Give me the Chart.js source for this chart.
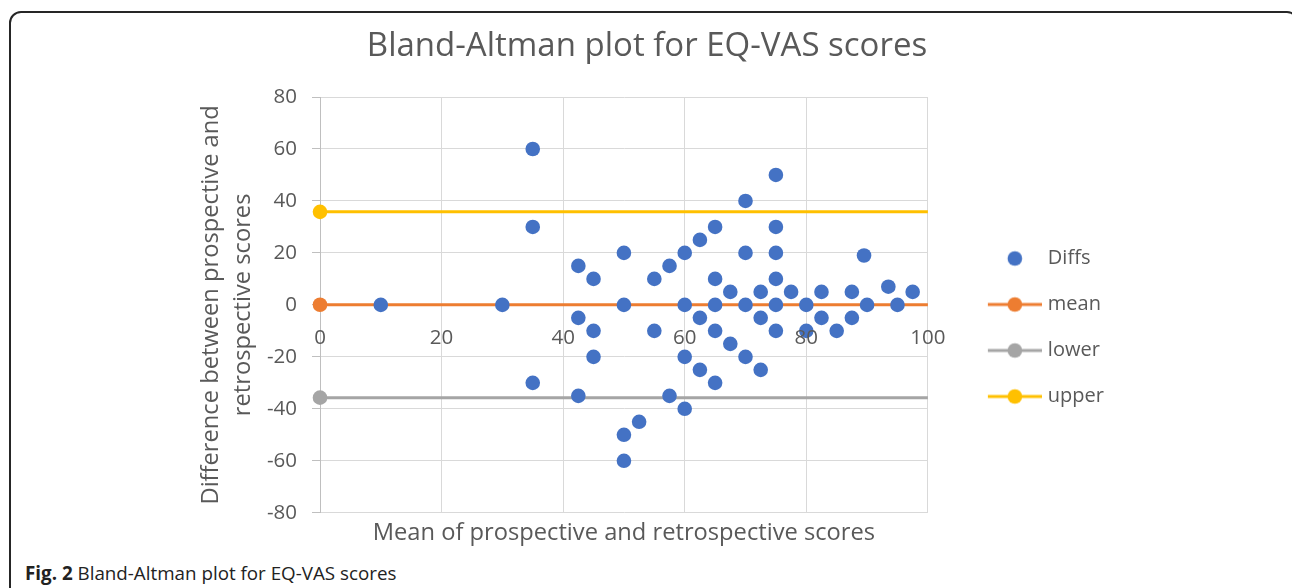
<!DOCTYPE html>
<html>
<head>
<meta charset="utf-8">
<script src="https://cdn.jsdelivr.net/npm/chart.js@4/dist/chart.umd.min.js"></script>
<style>
  html, body { margin: 0; padding: 0; background: #fff; overflow: hidden; width: 1292px; height: 588px; }
  #frame { position: absolute; left: 9px; top: 11px; width: 1290px; height: 700px; border: 2px solid #262626; border-radius: 12px; box-sizing: border-box; }
  #chart { position: absolute; left: 0; top: 0; }
  #caption { position: absolute; left: 25px; top: 560px; font-family: "Open Sans", sans-serif; font-size: 18.8px; color: #222; white-space: nowrap; }
</style>
</head>
<body>
<div id="frame"></div>
<canvas id="chart" width="1292" height="551"></canvas>
<div id="caption"><b>Fig. 2</b> Bland-Altman plot for EQ-VAS scores</div>
<script>
// Bland-Altman, EQ-VAS: mean of the two scores vs. their difference
var diffX = [10, 30, 35, 35, 35, 42.5, 42.5, 42.5, 45, 45, 45, 50, 50, 50, 50,
  52.5, 55, 55, 57.5, 57.5, 60, 60, 60, 60, 62.5, 62.5, 62.5, 65, 65, 65, 65, 65,
  67.5, 67.5, 70, 70, 70, 70, 72.5, 72.5, 72.5, 75, 75, 75, 75, 75, 75, 77.5,
  80, 80, 82.5, 82.5, 85, 87.5, 87.5, 89.5, 90, 93.5, 95, 97.5];
var diffY = [0, 0, 60, 30, -30, 15, -5, -35, 10, -10, -20, 20, 0, -50, -60,
  -45, 10, -10, 15, -35, 20, 0, -20, -40, 25, -5, -25, 30, 10, 0, -10, -30,
  5, -15, 40, 20, 0, -20, 5, -5, -25, 50, 30, 20, 10, 0, -10, 5,
  0, -10, 5, -5, -10, 5, -5, 19, 0, 7, 0, 5];

var limitX = [0, 100];
var meanDiff = [0.05, 0.05];
var lowerLoA = [-35.7, -35.7];
var upperLoA = [35.8, 35.8];

var seriesNames = ['Diffs', 'mean', 'lower', 'upper'];
var seriesColors = ['#4472C4', '#ED7D31', '#A5A5A5', '#FFC000'];

var textColor = '#595959';
var fontName = '"Open Sans", sans-serif';

function pts(xs, ys) {
  return xs.map(function (x, i) { return { x: x, y: ys[i] }; });
}

// legend icons: excel style line with marker in the middle
function legendIcon(color, withLine) {
  var c = document.createElement('canvas');
  c.width = 92; c.height = 20;
  var g = c.getContext('2d');
  if (withLine) {
    g.strokeStyle = color; g.lineWidth = 3;
    g.beginPath(); g.moveTo(38, 10); g.lineTo(92, 10); g.stroke();
  }
  g.fillStyle = color;
  g.beginPath(); g.arc(65, 10, 7.3, 0, Math.PI * 2); g.fill();
  return c;
}
var icons = seriesColors.map(function (col, i) { return legendIcon(col, i > 0); });

function limitLine(i, ys) {
  return {
    label: seriesNames[i],
    data: pts(limitX, ys),
    showLine: true,
    borderColor: seriesColors[i],
    backgroundColor: seriesColors[i],
    borderWidth: 3,
    pointRadius: [7.3, 0],
    pointHoverRadius: [7.3, 0],
    pointBorderWidth: 0,
    clip: false
  };
}

const ctx = document.getElementById('chart');
new Chart(ctx, {
  type: 'scatter',
  data: {
    datasets: [
      {
        label: seriesNames[0],
        data: pts(diffX, diffY),
        backgroundColor: seriesColors[0],
        borderColor: seriesColors[0],
        pointRadius: 7.3,
        pointBorderWidth: 0,
        clip: false
      },
      limitLine(1, meanDiff),
      limitLine(2, lowerLoA),
      limitLine(3, upperLoA)
    ]
  },
  options: {
    responsive: false,
    animation: false,
    devicePixelRatio: 1,
    layout: { padding: { top: 12, left: 180, right: 178, bottom: 4 } },
    plugins: {
      tooltip: { enabled: false },
      title: {
        display: true,
        text: 'Bland-Altman plot for EQ-VAS scores',
        color: textColor,
        font: { family: fontName, size: 33, weight: 'normal' },
        padding: { top: 14.5, bottom: 30.9 }
      },
      legend: {
        position: 'right',
        title: { display: true, text: ' ', font: { family: fontName, size: 20 }, padding: { top: 72, bottom: 0 } },
        labels: {
          color: textColor,
          font: { family: fontName, size: 20 },
          usePointStyle: true,
          pointStyleWidth: 84,
          padding: 26,
          generateLabels: function (chart) {
            var items = Chart.defaults.plugins.legend.labels.generateLabels(chart);
            items.forEach(function (it, i) { it.pointStyle = icons[i]; });
            return items;
          }
        }
      }
    },
    scales: {
      x: {
        type: 'linear',
        position: { y: 0 },
        min: 0, max: 100,
        grid: { color: '#D9D9D9', drawTicks: false },
        border: { color: '#BFBFBF' },
        ticks: { stepSize: 20, color: textColor, padding: 20.7, z: 1, font: { family: fontName, size: 20.5 } }
      },
      x2: {
        type: 'linear',
        position: 'bottom',
        min: 0, max: 100,
        grid: { display: false, drawTicks: false },
        border: { display: false },
        ticks: { display: false },
        title: {
          display: true,
          text: 'Mean of prospective and retrospective scores',
          color: textColor,
          font: { family: fontName, size: 23.7 },
          padding: { top: 5.8, bottom: 0 }
        }
      },
      y: {
        position: 'left',
        min: -80, max: 80,
        grid: { color: '#D9D9D9', tickLength: 8, tickColor: '#BFBFBF' },
        border: { color: '#BFBFBF' },
        ticks: { stepSize: 20, color: textColor, padding: 15, font: { family: fontName, size: 20.5 } },
        title: {
          display: true,
          text: ['Difference between prospective and', 'retrospective scores'],
          color: textColor,
          font: { family: fontName, size: 23.7, lineHeight: 32 / 23.7 },
          padding: { top: 15.7, bottom: 0 }
        },
        afterFit: function (s) { s.width = 140; }
      }
    }
  }
});
</script>
</body>
</html>
